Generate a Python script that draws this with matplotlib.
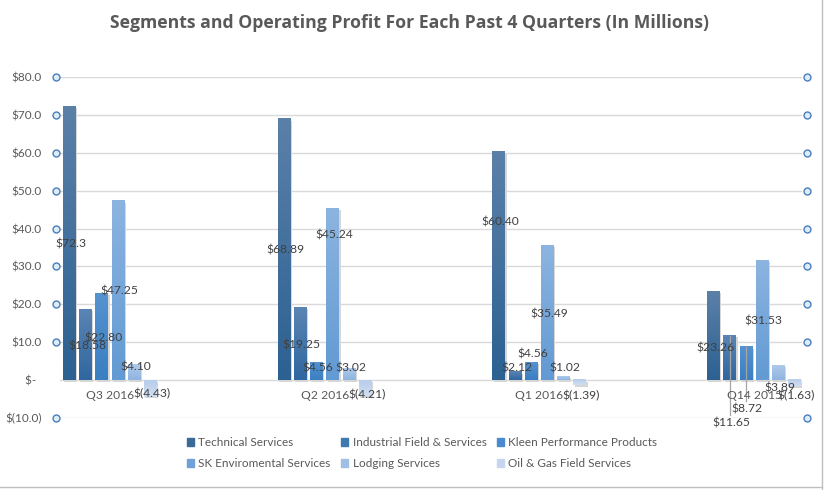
import numpy as np
import matplotlib
matplotlib.use("Agg")
import matplotlib.pyplot as plt
from matplotlib.colors import to_rgb, LinearSegmentedColormap
from matplotlib.patches import Patch
from matplotlib.lines import Line2D
import matplotlib.transforms as mtransforms

## -- data --
quarters = ["Q3 2016", "Q2 2016", "Q1 2016", "Q14 2015"]
segments = [
    "Technical Services",
    "Industrial Field & Services",
    "Kleen Performance Products",
    "SK Enviromental Services",
    "Lodging Services",
    "Oil & Gas Field Services",
]
technical = [72.3, 68.89, 60.40, 23.26]
industrial = [18.58, 19.25, 2.12, 11.65]
kleen = [22.80, 4.56, 4.56, 8.72]
sk_env = [47.25, 45.24, 35.49, 31.53]
lodging = [4.10, 3.02, 1.02, 3.89]
oil_gas = [-4.43, -4.21, -1.39, -1.63]
labels = [
    ["$72.3", "$68.89", "$60.40", "$23.26"],
    ["$18.58", "$19.25", "$2.12", "$11.65"],
    ["$22.80", "$4.56", "$4.56", "$8.72"],
    ["$47.25", "$45.24", "$35.49", "$31.53"],
    ["$4.10", "$3.02", "$1.02", "$3.89"],
    ["$(4.43)", "$(4.21)", "$(1.39)", "$(1.63)"],
]
yticks = [-10, 0, 10, 20, 30, 40, 50, 60, 70, 80]

## -- layout / style (label placement) --
label_y = [
    [35.9, 34.3, 41.6, 8.6],
    [9.0, 9.2, 3.2, -11.3],
    [11.2, 3.1, 7.0, -7.6],
    [23.6, 38.4, 17.4, 15.6],
    [3.4, 3.1, 3.2, -2.0],
    [-3.7, -3.8, -4.0, -4.0],
]
leader = [(1, 3), (2, 3)]  # (series, quarter) labels with leader lines
grad = [
    ("#5b80a8", "#2c6192"),
    ("#5a84b3", "#3067a0"),
    ("#5592d0", "#3a7fc2"),
    ("#8cb4e0", "#629ad3"),
    ("#afc9ea", "#8fb4e1"),
    ("#d0def2", "#b7cdea"),
]
legend_col = ["#3a6a97", "#3f79b0", "#4a8ad0", "#6fa0d8", "#9fbfe5", "#c5d6ee"]
txt = "#595959"
dark = "#404040"

plt.rcParams["font.family"] = ["Lato", "DejaVu Sans"]

W, H = 827, 490
fig = plt.figure(figsize=(W / 100, H / 100), dpi=100)
px_l, px_r, px_t, px_b = 60, 802, 77, 418
ax = fig.add_axes([px_l / W, 1 - px_b / H, (px_r - px_l) / W, (px_b - px_t) / H])

span = (px_r - px_l) / 214.7
xmin = -(110 - px_l) / 214.7
pitch, bw = 0.0755, 0.0605

series = [technical, industrial, kleen, sk_env, lodging, oil_gas]
x = np.arange(len(quarters))
for j, vals in enumerate(series):
    top, bot = to_rgb(grad[j][0]), to_rgb(grad[j][1])
    cmap = LinearSegmentedColormap.from_list("g%d" % j, [bot, top])
    for i, v in enumerate(vals):
        xc = x[i] + (j - 2.5) * pitch
        lo, hi = min(0, v), max(0, v)
        # light drop shadow
        ax.add_patch(plt.Rectangle((xc - bw / 2 + 0.006, lo - 0.4), bw, hi - lo,
                                   color="#d6d6d6", lw=0, zorder=2))
        g = np.linspace(0, 1, 64).reshape(-1, 1)
        if v < 0:
            g = g[::-1]
        ax.imshow(g, cmap=cmap, aspect="auto", origin="lower",
                  extent=(xc - bw / 2, xc + bw / 2, lo, hi), zorder=3,
                  interpolation="bilinear")
        ax.text(xc + 0.007, label_y[j][i], labels[j][i], ha="center", va="center",
                fontsize=8.7, color=dark, zorder=6, clip_on=False)

for j, i in leader:
    xc = x[i] + (j - 2.5) * pitch
    ax.plot([xc, xc], [series[j][i], label_y[j][i] + 2.2], color="#a6a6a6",
            lw=0.9, zorder=5, clip_on=False)

for i, q in enumerate(quarters):
    ax.text(x[i], -4.0, q, ha="center", va="center", fontsize=8.7, color=txt,
            zorder=6)

ax.set_xlim(xmin, xmin + span)
ax.set_ylim(-10, 80)
ax.set_yticks(yticks)
ax.set_yticklabels(
    ["$(%.1f)" % abs(t) if t < 0 else ("$-  " if t == 0 else "$%.1f" % t) for t in yticks]
)
ax.set_xticks([])
ax.tick_params(axis="y", length=0, pad=13, labelsize=8.5, labelcolor=txt)
for s in ax.spines.values():
    s.set_visible(False)
ax.grid(axis="y", color="#d9d9d9", lw=1, zorder=0)
ax.set_axisbelow(True)

# selection handles on the gridlines
tr = mtransforms.blended_transform_factory(ax.transAxes, ax.transData)
hy = [t for t in yticks if t != 0]
for xa in [(56 - px_l) / (px_r - px_l), (807 - px_l) / (px_r - px_l)]:
    ax.plot([xa] * len(hy), hy, "o", ms=5, mfc="#dcecf8", mec="#4a7ebb",
            mew=1.0, transform=tr, clip_on=False, zorder=7)

fig.text(409 / W, 1 - 23 / H, "Segments and Operating Profit For Each Past 4 Quarters (In Millions)",
         ha="center", va="center", fontsize=12.7, fontweight="bold", color=txt,
         family="Open Sans")

order = [0, 3, 1, 4, 2, 5]
handles = [Patch(color=legend_col[k], label=segments[k]) for k in order]
fig.legend(handles=handles, ncol=3, loc="center", bbox_to_anchor=(422 / W, 1 - 453 / H),
           frameon=False, fontsize=8.5, labelcolor=txt, handlelength=0.6,
           handleheight=0.6, handletextpad=0.4, columnspacing=0.85, labelspacing=0.85)

# chart frame edge
fig.add_artist(Line2D([822 / W, 822 / W], [0, 1], color="#bfbfbf", lw=1))
fig.add_artist(Line2D([0, 822 / W], [1 - 487 / H, 1 - 487 / H], color="#bfbfbf", lw=1))

fig.savefig("out.png", dpi=100)
